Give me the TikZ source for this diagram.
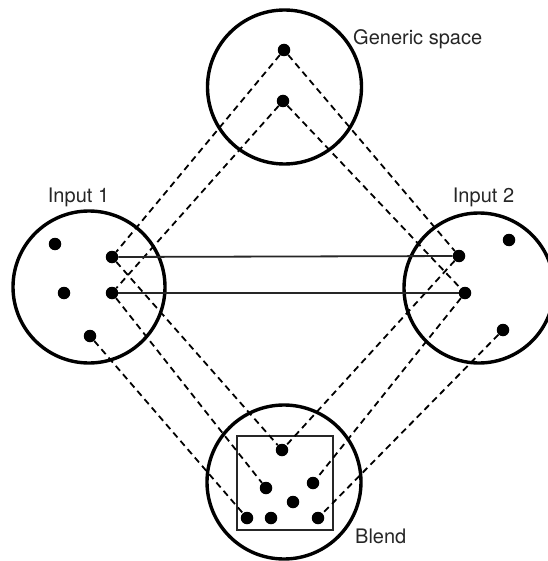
\documentclass[tikz,border=0pt]{standalone}
\usepackage{fontspec}
\setmainfont{TeX Gyre Heros}
\begin{document}
\begin{tikzpicture}[x=1pt,y=-1pt,
  ring/.style={circle, draw=black, line width=3.4pt, inner sep=0pt},
  dot/.style={circle, fill=black, inner sep=0pt, minimum size=12.5pt},
  link/.style={line width=1.8pt, dash pattern=on 6.5pt off 4.5pt},
  match/.style={line width=1.8pt, draw=black!85},
  lbl/.style={font=\fontsize{20}{24}\selectfont, inner sep=0pt, text=black!85}]
\useasboundingbox (0,0) rectangle (547,561);
% spaces
\node[ring, minimum size=154pt] (gen) at (284.5,87) {};
\node[ring, minimum size=152pt] (inA) at (89,287) {};
\node[ring, minimum size=150pt] (inB) at (479,288) {};
\node[ring, minimum size=154pt] (blend) at (284,482) {};
\node[draw=black!85, line width=1.8pt, minimum width=96pt, minimum height=94pt, inner sep=0pt] (box) at (285,483) {};
% dots
\node[dot] (g1) at (284,50) {};
\node[dot] (g2) at (283,101) {};
\node[dot] (a1) at (55,244) {};
\node[dot] (a2) at (112,257) {};
\node[dot] (a3) at (64,293) {};
\node[dot] (a4) at (112,293) {};
\node[dot] (a5) at (90,336) {};
\node[dot] (b1) at (509,240) {};
\node[dot] (b2) at (459,256) {};
\node[dot] (b3) at (465,293) {};
\node[dot] (b4) at (503,330) {};
\node[dot] (c1) at (282,450) {};
\node[dot] (c2) at (266,488) {};
\node[dot] (c3) at (313,483) {};
\node[dot] (c4) at (293,502) {};
\node[dot] (c5) at (247,518) {};
\node[dot] (c6) at (271,518) {};
\node[dot] (c7) at (318,518) {};
% generic mappings
\draw[link] (g1) -- (a2);
\draw[link] (g1) -- (b2);
\draw[link] (g2) -- (a4);
\draw[link] (g2) -- (b3);
% projections into the blend
\draw[link] (a2) -- (c1);
\draw[link] (a4) -- (c2);
\draw[link] (a5) -- (c5);
\draw[link] (b2) -- (c1);
\draw[link] (b3) -- (c3);
\draw[link] (b4) -- (c7);
% cross-space mappings
\draw[match] (a2) -- (b2);
\draw[match] (a4) -- (b3);
% labels
\node[lbl, anchor=base west] (genlbl) at (353,45) {Generic space};
\node[lbl, anchor=base] (lblA) at (78.5,202) {Input 1};
\node[lbl, anchor=base] (lblB) at (483.5,202) {Input 2};
\node[lbl, anchor=base west] (lblC) at (355,543) {Blend};
\end{tikzpicture}
\end{document}
